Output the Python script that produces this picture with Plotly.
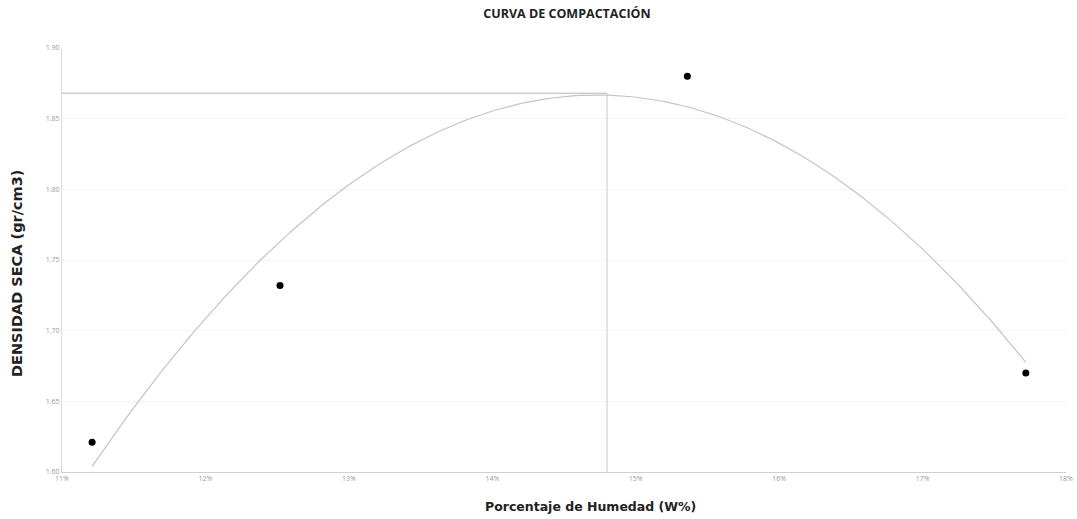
import numpy as np
import plotly.graph_objects as go

# Data
humedad = [11.21, 12.52, 15.36, 17.72]          # % moisture
densidad = [1.621, 1.732, 1.880, 1.670]         # gr/cm3
humedad_optima = 14.80                          # % (vertical guide)
densidad_maxima = 1.868                         # gr/cm3 (horizontal guide)
x_ticks = [11, 12, 13, 14, 15, 16, 17, 18]
y_ticks = [1.60, 1.65, 1.70, 1.75, 1.80, 1.85, 1.90]

# Polynomial (order 2) trendline, as in the original spreadsheet chart
coef = np.polyfit(humedad, densidad, 2)
xs = np.linspace(min(humedad), max(humedad), 200)
ys = np.polyval(coef, xs)

W, H = 1077, 519
L, R, T, B = 62, 11, 48, 47
pw = W - L - R

fig = go.Figure()
fig.add_trace(go.Scatter(x=xs, y=ys, mode="lines",
                         line=dict(color="#c4c4c4", width=1.2),
                         hoverinfo="skip", showlegend=False))
fig.add_trace(go.Scatter(x=[x_ticks[0], humedad_optima], y=[densidad_maxima, densidad_maxima],
                         mode="lines", line=dict(color="#b8b8b8", width=1), showlegend=False))
fig.add_trace(go.Scatter(x=[humedad_optima, humedad_optima], y=[y_ticks[0], densidad_maxima],
                         mode="lines", line=dict(color="#c8c8c8", width=1), showlegend=False))
fig.add_trace(go.Scatter(x=humedad, y=densidad, mode="markers",
                         marker=dict(color="black", size=7), showlegend=False))

fig.update_layout(
    width=W, height=H,
    margin=dict(l=L, r=R, t=T, b=B),
    paper_bgcolor="white", plot_bgcolor="white",
    font=dict(family="Open Sans", color="#333"),
    title=dict(text="<b>CURVA DE COMPACTACIÓN</b>", xref="container", x=567 / W,
               xanchor="center", y=1 - 14 / H, yanchor="middle",
               font=dict(size=12.5, color="#222", family="Open Sans")),
    xaxis=dict(range=[x_ticks[0], x_ticks[-1]], tickvals=x_ticks,
               ticktext=[f"{v}%" for v in x_ticks], automargin=False,
               showgrid=False, zeroline=False,
               showline=True, linecolor="#d0d0d0", linewidth=1,
               tickfont=dict(size=7, color="#999"), ticks=""),
    yaxis=dict(range=[y_ticks[0], y_ticks[-1]], tickvals=y_ticks,
               tickformat=".2f", automargin=False,
               showgrid=True, gridcolor="#f4f4f4", zeroline=False,
               showline=True, linecolor="#dadada", linewidth=1,
               tickfont=dict(size=7, color="#999"), ticks=""),
)
fig.add_annotation(text="<b>Porcentaje de Humedad (W%)</b>", xref="paper", yref="paper",
                   x=(590 - L) / pw, y=-(506 - 472) / 424,
                   showarrow=False, yanchor="middle", xanchor="center",
                   font=dict(size=12.5, color="#222", family="DejaVu Sans"))
fig.add_annotation(text="<b>DENSIDAD SECA (gr/cm3)</b>", xref="paper", yref="paper",
                   x=-(L - 17) / pw, y=(472 - 274) / 424, textangle=-90,
                   showarrow=False, xanchor="center", yanchor="middle",
                   font=dict(size=14.5, color="#222", family="DejaVu Sans"))

fig.write_html("out.html", config={"displayModeBar": False},
               post_script="document.body.style.margin='0';")
